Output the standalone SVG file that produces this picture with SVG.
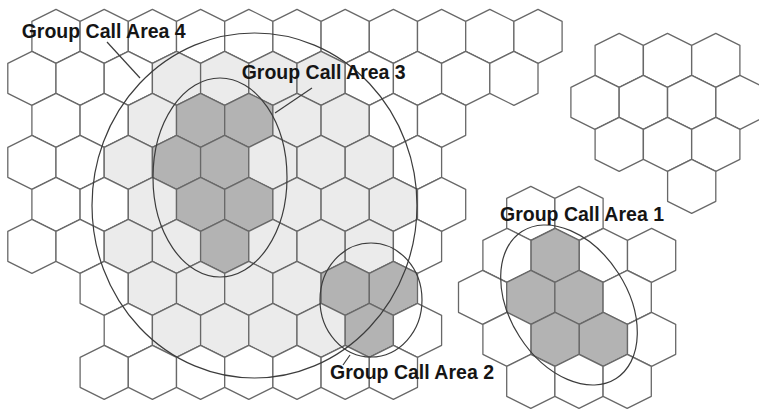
<svg xmlns="http://www.w3.org/2000/svg" xmlns:xlink="http://www.w3.org/1999/xlink" width="759" height="413" viewBox="0 0 759 413">
<style>
.c{stroke:#686868;stroke-width:1.3;stroke-linejoin:round}
.w{fill:#ffffff}
.l{fill:#ebebeb}
.d{fill:#b3b3b3}
.e{fill:none;stroke:#3c3c3c;stroke-width:1.2}
.k{stroke:#3c3c3c;stroke-width:1.2;fill:none}
.t{font-family:"Liberation Sans",Arial,sans-serif;font-weight:bold;font-size:19.5px;fill:#151515}
</style>
<defs>
<path id="h" d="M0,-27 L24.1,-15 L24.1,15 L0,27 L-24.1,15 L-24.1,-15 Z"/>
</defs>
<rect width="759" height="413" fill="#ffffff"/>
<g id="main-grid" class="c">
<!-- row 0 -->
<use href="#h" class="w" x="56" y="36.3"/><use href="#h" class="w" x="104.2" y="36.3"/><use href="#h" class="w" x="152.4" y="36.3"/><use href="#h" class="w" x="200.6" y="36.3"/><use href="#h" class="w" x="248.8" y="36.3"/><use href="#h" class="w" x="297" y="36.3"/><use href="#h" class="w" x="345.2" y="36.3"/><use href="#h" class="w" x="393.4" y="36.3"/><use href="#h" class="w" x="441.6" y="36.3"/><use href="#h" class="w" x="489.8" y="36.3"/><use href="#h" class="w" x="538" y="36.3"/>
<!-- row 1 -->
<use href="#h" class="w" x="31.9" y="78.3"/><use href="#h" class="w" x="80.1" y="78.3"/><use href="#h" class="w" x="128.3" y="78.3"/><use href="#h" class="l" x="176.5" y="78.3"/><use href="#h" class="l" x="224.7" y="78.3"/><use href="#h" class="l" x="272.9" y="78.3"/><use href="#h" class="l" x="321.1" y="78.3"/><use href="#h" class="w" x="369.3" y="78.3"/><use href="#h" class="w" x="417.5" y="78.3"/><use href="#h" class="w" x="465.7" y="78.3"/><use href="#h" class="w" x="513.9" y="78.3"/>
<!-- row 2 -->
<use href="#h" class="w" x="56" y="120.3"/><use href="#h" class="w" x="104.2" y="120.3"/><use href="#h" class="l" x="152.4" y="120.3"/><use href="#h" class="d" x="200.6" y="120.3"/><use href="#h" class="d" x="248.8" y="120.3"/><use href="#h" class="l" x="297" y="120.3"/><use href="#h" class="l" x="345.2" y="120.3"/><use href="#h" class="w" x="393.4" y="120.3"/><use href="#h" class="w" x="441.6" y="120.3"/>
<!-- row 3 -->
<use href="#h" class="w" x="31.9" y="162.3"/><use href="#h" class="w" x="80.1" y="162.3"/><use href="#h" class="l" x="128.3" y="162.3"/><use href="#h" class="d" x="176.5" y="162.3"/><use href="#h" class="d" x="224.7" y="162.3"/><use href="#h" class="l" x="272.9" y="162.3"/><use href="#h" class="l" x="321.1" y="162.3"/><use href="#h" class="l" x="369.3" y="162.3"/><use href="#h" class="w" x="417.5" y="162.3"/>
<!-- row 4 -->
<use href="#h" class="w" x="56" y="204.3"/><use href="#h" class="w" x="104.2" y="204.3"/><use href="#h" class="l" x="152.4" y="204.3"/><use href="#h" class="d" x="200.6" y="204.3"/><use href="#h" class="d" x="248.8" y="204.3"/><use href="#h" class="l" x="297" y="204.3"/><use href="#h" class="l" x="345.2" y="204.3"/><use href="#h" class="l" x="393.4" y="204.3"/><use href="#h" class="w" x="441.6" y="204.3"/>
<!-- row 5 -->
<use href="#h" class="w" x="31.9" y="246.3"/><use href="#h" class="w" x="80.1" y="246.3"/><use href="#h" class="l" x="128.3" y="246.3"/><use href="#h" class="l" x="176.5" y="246.3"/><use href="#h" class="d" x="224.7" y="246.3"/><use href="#h" class="l" x="272.9" y="246.3"/><use href="#h" class="l" x="321.1" y="246.3"/><use href="#h" class="l" x="369.3" y="246.3"/><use href="#h" class="w" x="417.5" y="246.3"/>
<!-- row 6 -->
<use href="#h" class="w" x="104.2" y="288.3"/><use href="#h" class="l" x="152.4" y="288.3"/><use href="#h" class="l" x="200.6" y="288.3"/><use href="#h" class="l" x="248.8" y="288.3"/><use href="#h" class="l" x="297" y="288.3"/><use href="#h" class="d" x="345.2" y="288.3"/><use href="#h" class="d" x="393.4" y="288.3"/>
<!-- row 7 -->
<use href="#h" class="w" x="128.3" y="330.3"/><use href="#h" class="l" x="176.5" y="330.3"/><use href="#h" class="l" x="224.7" y="330.3"/><use href="#h" class="l" x="272.9" y="330.3"/><use href="#h" class="l" x="321.1" y="330.3"/><use href="#h" class="d" x="369.3" y="330.3"/><use href="#h" class="w" x="417.5" y="330.3"/>
<!-- row 8 -->
<use href="#h" class="w" x="104.2" y="372.3"/><use href="#h" class="w" x="152.4" y="372.3"/><use href="#h" class="w" x="200.6" y="372.3"/><use href="#h" class="w" x="248.8" y="372.3"/><use href="#h" class="w" x="297" y="372.3"/><use href="#h" class="w" x="345.2" y="372.3"/><use href="#h" class="w" x="393.4" y="372.3"/>
</g>
<g id="upper-right-cluster" class="c">
<use href="#h" class="w" x="619.2" y="60.3"/><use href="#h" class="w" x="667.5" y="60.3"/><use href="#h" class="w" x="715.8" y="60.3"/>
<use href="#h" class="w" x="595" y="102.3"/><use href="#h" class="w" x="643.3" y="102.3"/><use href="#h" class="w" x="691.7" y="102.3"/><use href="#h" class="w" x="740" y="102.3"/>
<use href="#h" class="w" x="619.2" y="144.3"/><use href="#h" class="w" x="667.5" y="144.3"/><use href="#h" class="w" x="715.8" y="144.3"/>
<use href="#h" class="w" x="691.7" y="186.3"/>
</g>
<g id="lower-right-cluster" class="c">
<use href="#h" class="w" x="530.8" y="213.3"/><use href="#h" class="w" x="579" y="213.3"/>
<use href="#h" class="w" x="507" y="255.3"/><use href="#h" class="d" x="555.2" y="255.3"/><use href="#h" class="w" x="603.4" y="255.3"/><use href="#h" class="w" x="651.6" y="255.3"/>
<use href="#h" class="w" x="482.6" y="297.3"/><use href="#h" class="d" x="530.8" y="297.3"/><use href="#h" class="d" x="579" y="297.3"/><use href="#h" class="w" x="627.2" y="297.3"/>
<use href="#h" class="w" x="507" y="339.3"/><use href="#h" class="d" x="555.2" y="339.3"/><use href="#h" class="d" x="603.4" y="339.3"/><use href="#h" class="w" x="651.6" y="339.3"/>
<use href="#h" class="w" x="530.8" y="381.3"/><use href="#h" class="w" x="579" y="381.3"/><use href="#h" class="w" x="627.2" y="381.3"/>
</g>
<g id="gca4"><ellipse class="e" cx="254.5" cy="205.5" rx="162.5" ry="172.5"/><text class="t" x="21.7" y="38.3">Group Call Area 4</text></g>
<g id="gca3"><ellipse class="e" cx="220" cy="177.5" rx="67" ry="99.5"/><text class="t" x="241.7" y="78.8">Group Call Area 3</text></g>
<g id="gca2"><ellipse class="e" cx="371" cy="300" rx="51" ry="57"/><text class="t" x="330" y="379.3">Group Call Area 2</text></g>
<g id="gca1"><ellipse class="e" cx="569" cy="305" rx="58.7" ry="87.3" transform="rotate(-32.7 569 305)"/><text class="t" x="500" y="220.7">Group Call Area 1</text></g>
<g id="connectors">
<line class="k" x1="107" y1="42" x2="140" y2="78"/>
<line class="k" x1="312" y1="88" x2="275" y2="113"/>
<line class="k" x1="350" y1="355" x2="343" y2="365"/>
</g>
</svg>
